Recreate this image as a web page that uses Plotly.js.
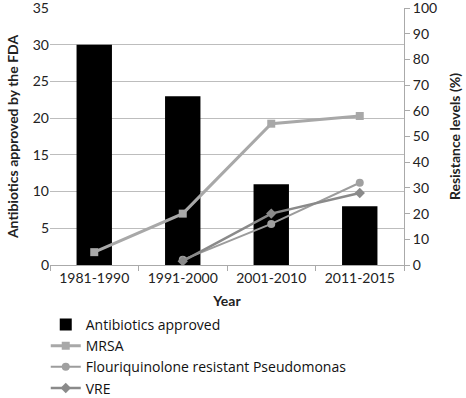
<!DOCTYPE html>
<html><head><meta charset="utf-8">
<script src="https://cdn.plot.ly/plotly-3.0.1.min.js"></script>
<style>body{margin:0;background:#fff}#c{width:466px;height:398px}</style>
</head><body><div id="c"></div>
<script>
const years = ["1981-1990", "1991-2000", "2001-2010", "2011-2015"];
const antibiotics = [30, 23, 11, 8];
const mrsa = [5, 20, 55, 58];
const pseudomonas = [null, 2, 16, 32];
const vre = [null, 1.5, 20, 28];
const leftTicks = [0, 5, 10, 15, 20, 25, 30, 35];
const rightTicks = [0, 10, 20, 30, 40, 50, 60, 70, 80, 90, 100];

const F = "Lato, 'Open Sans', sans-serif";
const traces = [
  {type:"bar", x:years, y:antibiotics, name:"Antibiotics approved", marker:{color:"#000"}},
  {type:"scatter", mode:"lines+markers", x:years, y:mrsa, yaxis:"y2", name:"MRSA",
   line:{color:"#a8a8a8", width:3}, marker:{symbol:"square", size:8, color:"#a8a8a8"}},
  {type:"scatter", mode:"lines+markers", x:years, y:pseudomonas, yaxis:"y2", name:"Flouriquinolone resistant Pseudomonas",
   line:{color:"#9c9c9c", width:2}, marker:{symbol:"circle", size:8, color:"#a0a0a0"}},
  {type:"scatter", mode:"lines+markers", x:years, y:vre, yaxis:"y2", name:"VRE",
   line:{color:"#8a8a8a", width:2.5}, marker:{symbol:"diamond", size:8, color:"#8a8a8a"}}
];
const layout = {
  width:466, height:398,
  margin:{l:50, r:62, t:8, b:133, autoexpand:false},
  paper_bgcolor:"#fff", plot_bgcolor:"#fff",
  font:{family:F, size:13, color:"#222"},
  bargap:0.6,
  showlegend:true,
  legend:{orientation:"v", x:-0.012, xanchor:"left", xref:"paper", y:0.224, yref:"container", yanchor:"top",
          font:{family:"'Open Sans', Lato, sans-serif", size:14, color:"#111"}, tracegroupgap:0, itemwidth:30},
  xaxis:{type:"category", tickson:"boundaries", ticks:"outside", ticklen:5, tickcolor:"#aaa",
         showline:true, linecolor:"#aaa", showgrid:false,
         tickfont:{size:14},
         title:{text:"<b>Year</b>", font:{size:14}, standoff:14}},
  yaxis:{range:[0,35.01], tickvals:leftTicks, showgrid:true, gridcolor:"#bdbdbd", gridwidth:1,
         zeroline:false, showline:false, ticks:"", tickfont:{size:14}, ticklabeloverflow:"allow",
         title:{text:"<b>Antibiotics approved by the FDA</b>", font:{size:14}, standoff:10}},
  yaxis2:{overlaying:"y", side:"right", range:[0,100.03], tickvals:rightTicks, showgrid:false,
          zeroline:false, showline:true, linecolor:"#aaa", ticks:"outside", ticklen:5, tickcolor:"#aaa",
          tickfont:{size:14}, ticklabeloverflow:"allow",
          title:{text:"<b>Resistance levels (%)</b>", font:{size:14}, standoff:14}}
};
Plotly.newPlot("c", traces, layout, {displayModeBar:false, staticPlot:true});
</script></body></html>
